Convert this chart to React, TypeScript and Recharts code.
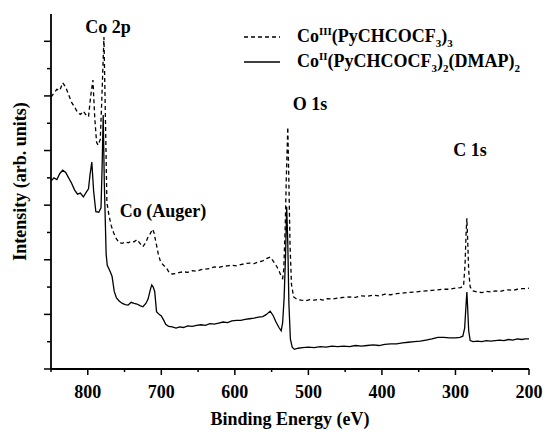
import React from "react";
import { LineChart, Line, XAxis, YAxis, ReferenceDot } from "recharts";

// Co(III) complex – dashed trace
const co3Energy = [
  850, 846, 842, 838, 834, 830, 826, 822, 818, 814, 810, 806, 802, 799, 796, 793, 790.5, 788, 786, 783, 781,
  778, 776, 774, 771, 768, 765, 761, 757, 753, 749, 745, 741, 737, 733, 729, 725, 721, 718, 715, 712, 710,
  707, 704, 701, 697, 693, 689, 685, 680, 675, 670, 664, 658, 652, 646, 640, 634, 628, 622, 616, 610, 604,
  598, 592, 586, 580, 574, 568, 562, 557, 552, 548, 544, 540, 537, 535, 533.5, 531.5, 530, 528, 526.5, 525,
  523, 520, 515, 510, 504, 498, 492, 486, 480, 474, 468, 460, 452, 444, 436, 428, 420, 412, 404, 396, 388,
  380, 372, 364, 356, 348, 340, 332, 324, 316, 308, 300, 293, 289, 287, 285.5, 284.5, 283.5, 282, 280, 276,
  270, 264, 258, 252, 246, 240, 234, 228, 222, 216, 210, 205, 200,
];
const co3Intensity = [
  4.98, 5.05, 5.12, 5.1, 5.24, 5.16, 5.02, 4.88, 4.8, 4.7, 4.66, 4.72, 4.64, 4.62, 5.0, 5.29, 4.6, 4.15, 4.1,
  4.2, 4.9, 6.08, 4.6, 3.05, 2.8, 2.62, 2.5, 2.38, 2.31, 2.3, 2.33, 2.31, 2.34, 2.33, 2.37, 2.3, 2.24, 2.32,
  2.42, 2.48, 2.56, 2.5, 2.3, 2.1, 1.96, 1.9, 1.85, 1.76, 1.74, 1.75, 1.77, 1.78, 1.77, 1.8, 1.79, 1.82,
  1.83, 1.84, 1.87, 1.86, 1.88, 1.89, 1.9, 1.89, 1.91, 1.93, 1.94, 1.93, 1.96, 1.98, 2.02, 2.05, 1.98, 1.9,
  1.8, 1.7, 1.66, 1.82, 2.6, 3.5, 4.43, 3.4, 2.3, 1.55, 1.32, 1.27, 1.26, 1.25, 1.27, 1.26, 1.28, 1.26, 1.29,
  1.28, 1.3, 1.31, 1.32, 1.31, 1.34, 1.33, 1.35, 1.34, 1.37, 1.36, 1.38, 1.39, 1.4, 1.41, 1.42, 1.43, 1.44,
  1.45, 1.46, 1.46, 1.48, 1.49, 1.52, 1.9, 2.5, 2.76, 2.4, 1.8, 1.5, 1.43, 1.41, 1.4, 1.42, 1.41, 1.43, 1.42,
  1.44, 1.45, 1.44, 1.46, 1.47, 1.47, 1.48,
];

// Co(II) complex – solid trace
const co2Energy = [
  850, 846, 842, 838, 834, 830, 826, 822, 818, 814, 810, 806, 802, 799, 797, 794.5, 792, 789, 785, 782, 780.5,
  779, 777.5, 775, 773.5, 770, 767, 764, 761, 757, 753, 749, 745, 741, 737, 733, 729, 725, 721, 718, 715,
  713, 711, 709, 706.5, 703, 700, 697, 694, 690, 685, 680, 675, 670, 664, 658, 652, 646, 640, 634, 628, 622,
  616, 610, 604, 598, 592, 586, 580, 574, 568, 562, 557, 552, 548, 544, 540, 537, 535, 533, 531, 529.5, 528,
  526.5, 524.5, 522, 519, 514, 508, 500, 492, 484, 476, 468, 460, 452, 444, 436, 428, 420, 412, 404, 396,
  388, 380, 372, 364, 356, 348, 340, 332, 324, 316, 308, 300, 294, 290, 287.5, 285.5, 284.5, 283.5, 282, 280,
  276, 270, 264, 258, 252, 246, 240, 234, 228, 222, 216, 210, 205, 200,
];
const co2Intensity = [
  3.44, 3.5, 3.47, 3.58, 3.64, 3.6, 3.5, 3.4, 3.28, 3.2, 3.22, 3.15, 3.24, 3.3, 3.55, 3.79, 3.25, 2.88, 2.87,
  2.95, 3.7, 4.65, 3.4, 2.1, 1.9, 1.8, 1.7, 1.42, 1.3, 1.24, 1.2, 1.18, 1.17, 1.22, 1.2, 1.19, 1.16, 1.14,
  1.2, 1.28, 1.45, 1.54, 1.5, 1.42, 1.05, 1.0, 0.97, 0.9, 0.82, 0.78, 0.77, 0.75, 0.77, 0.76, 0.79, 0.78, 0.8,
  0.81, 0.8, 0.83, 0.82, 0.84, 0.86, 0.85, 0.88, 0.89, 0.89, 0.91, 0.92, 0.93, 0.95, 0.96, 1.0, 1.06, 0.98,
  0.86, 0.76, 0.7, 0.85, 1.3, 2.1, 2.97, 2.3, 1.2, 0.55, 0.4, 0.36, 0.38, 0.39, 0.4, 0.39, 0.41, 0.4, 0.42,
  0.41, 0.42, 0.41, 0.43, 0.42, 0.43, 0.44, 0.43, 0.45, 0.46, 0.46, 0.48, 0.49, 0.5, 0.51, 0.53, 0.55, 0.58,
  0.58, 0.57, 0.57, 0.58, 0.6, 0.75, 1.2, 1.41, 1.15, 0.7, 0.52, 0.5, 0.51, 0.5, 0.52, 0.51, 0.52, 0.53,
  0.52, 0.54, 0.53, 0.55, 0.54, 0.55, 0.55,
];

const xTicks = [850, 800, 750, 700, 650, 600, 550, 500, 450, 400, 350, 300, 250, 200];
const yTicks = [0, 0.5, 1, 1.5, 2, 2.5, 3, 3.5, 4, 4.5, 5, 5.5, 6];

const co3Data = co3Energy.map((e, i) => ({ energy: e, intensity: co3Intensity[i] }));
const co2Data = co2Energy.map((e, i) => ({ energy: e, intensity: co2Intensity[i] }));

const serif = "Liberation Serif, Times New Roman, Times, serif";

function XTick({ x, y, payload }: any) {
  const major = payload.value % 100 === 0;
  return (
    <g>
      <line x1={x} y1={y} x2={x} y2={y + (major ? 6 : 3)} stroke="#000" strokeWidth={1.5} />
      {major && (
        <text x={x} y={y + 29} textAnchor="middle" fontFamily={serif} fontWeight="bold" fontSize={18} fill="#000">
          {payload.value}
        </text>
      )}
    </g>
  );
}

function YTick({ x, y, payload }: any) {
  const major = Number.isInteger(payload.value);
  return <line x1={x} y1={y} x2={x - (major ? 7 : 4)} y2={y} stroke="#000" strokeWidth={1.5} />;
}

function Note(text: string) {
  return ({ cx, cy }: any) => (
    <text x={cx} y={cy} textAnchor="middle" fontFamily={serif} fontWeight="bold" fontSize={18} fill="#000">
      {text}
    </text>
  );
}

const legendRow: React.CSSProperties = { display: "flex", alignItems: "center", height: 25 };
const legendText: React.CSSProperties = {
  fontFamily: serif,
  fontWeight: "bold",
  fontSize: 18,
  marginLeft: 17,
  whiteSpace: "nowrap",
};
const small: React.CSSProperties = { fontSize: 11 };

export default function App() {
  return (
    <div style={{ position: "absolute", left: 0, top: 0, width: 543, height: 433, background: "#fff" }}>
      <LineChart width={543} height={433} margin={{ top: 14, right: 14, left: 0, bottom: 0 }}>
        <XAxis
          dataKey="energy"
          type="number"
          domain={[200, 850]}
          reversed
          ticks={xTicks}
          interval={0}
          tickSize={0}
          tickMargin={0}
          tick={<XTick />}
          height={64}
          axisLine={{ stroke: "#000", strokeWidth: 1.8 }}
          allowDataOverflow
          label={({ viewBox }: any) => (
            <text
              x={viewBox.x + viewBox.width / 2}
              y={viewBox.y + 56}
              textAnchor="middle"
              fontFamily={serif}
              fontWeight="bold"
              fontSize={18}
              fill="#000"
            >
              Binding Energy (eV)
            </text>
          )}
        />
        <XAxis
          xAxisId="top"
          orientation="top"
          type="number"
          domain={[200, 850]}
          reversed
          height={0}
          tick={false}
          tickLine={false}
          axisLine={{ stroke: "#000", strokeWidth: 1.8 }}
        />
        <YAxis
          type="number"
          domain={[0, 6.5]}
          ticks={yTicks}
          interval={0}
          tickSize={0}
          tickMargin={0}
          tick={<YTick />}
          width={51}
          axisLine={{ stroke: "#000", strokeWidth: 1.8 }}
          allowDataOverflow
          label={({ viewBox }: any) => (
            <text
              x={20}
              y={viewBox.y + viewBox.height / 2 - 10}
              transform={`rotate(-90 20 ${viewBox.y + viewBox.height / 2 - 10})`}
              textAnchor="middle"
              dominantBaseline="central"
              fontFamily={serif}
              fontWeight="bold"
              fontSize={18}
              fill="#000"
            >
              Intensity (arb. units)
            </text>
          )}
        />
        <YAxis
          yAxisId="right"
          orientation="right"
          type="number"
          domain={[0, 6.5]}
          width={0}
          tick={false}
          tickLine={false}
          axisLine={{ stroke: "#000", strokeWidth: 1.8 }}
        />
        <Line
          data={co3Data}
          dataKey="intensity"
          type="linear"
          stroke="#000"
          strokeWidth={1.3}
          strokeDasharray="4 3"
          dot={false}
          isAnimationActive={false}
        />
        <Line
          data={co2Data}
          dataKey="intensity"
          type="linear"
          stroke="#000"
          strokeWidth={1.3}
          dot={false}
          isAnimationActive={false}
        />
        <ReferenceDot x={772.5} y={6.15} r={0} shape={Note("Co 2p")} />
        <ReferenceDot x={697.7} y={2.78} r={0} shape={Note("Co (Auger)")} />
        <ReferenceDot x={497.8} y={4.74} r={0} shape={Note("O 1s")} />
        <ReferenceDot x={280.2} y={3.9} r={0} shape={Note("C 1s")} />
      </LineChart>
      <div style={{ position: "absolute", left: 244, top: 24 }}>
        <div style={legendRow}>
          <svg width={36} height={6}>
            <line x1={0} y1={3} x2={36} y2={3} stroke="#000" strokeWidth={1.3} strokeDasharray="4 3" />
          </svg>
          <span style={legendText}>
            Co<sup style={small}>III</sup>(PyCHCOCF<sub style={small}>3</sub>)<sub style={small}>3</sub>
          </span>
        </div>
        <div style={legendRow}>
          <svg width={36} height={6}>
            <line x1={0} y1={3} x2={36} y2={3} stroke="#000" strokeWidth={1.3} />
          </svg>
          <span style={legendText}>
            Co<sup style={small}>II</sup>(PyCHCOCF<sub style={small}>3</sub>)<sub style={small}>2</sub>(DMAP)
            <sub style={small}>2</sub>
          </span>
        </div>
      </div>
    </div>
  );
}
